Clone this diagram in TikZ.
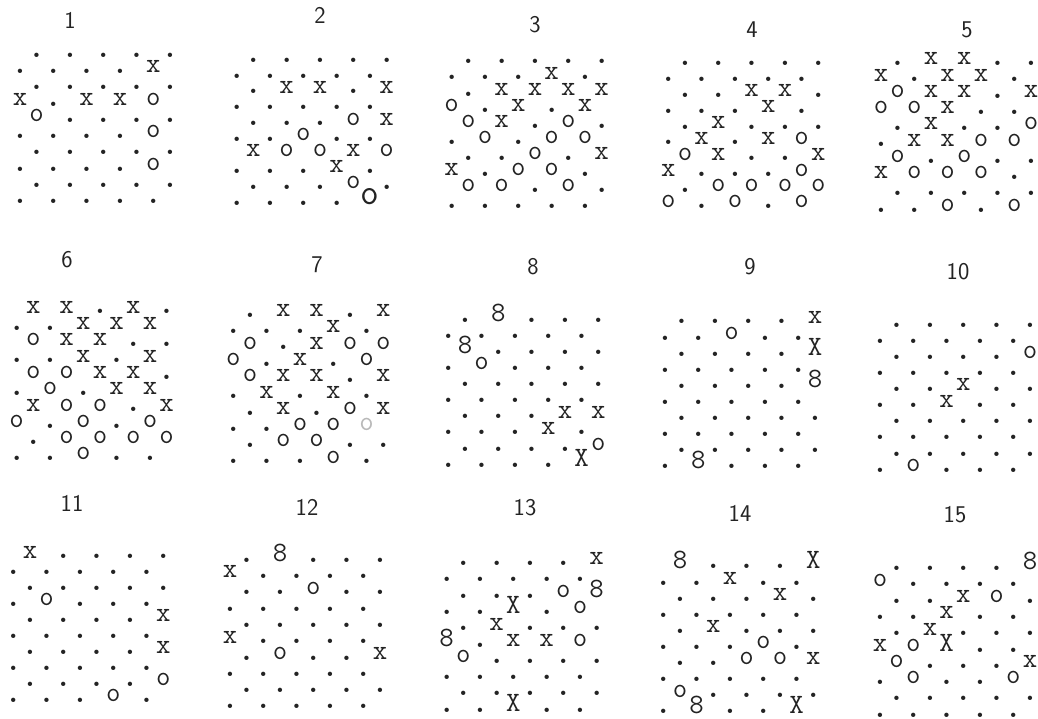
\documentclass[tikz,border=0pt]{standalone}
\usepackage{xcolor}
\usepackage{tikz}
\usetikzlibrary{positioning}
\definecolor{ink}{RGB}{35,35,35}
\definecolor{inkfaint}{RGB}{185,185,185}
\newcommand{\mkglyph}[1]{%
  \if f#1\textcolor{inkfaint}{o}\else
  \if O#1\scalebox{1.3}{o}\else#1\fi\fi}
\tikzset{
  typed/.style={inner sep=0pt,anchor=base,text=ink,yshift=-1.5pt,
               font=\fontsize{28}{28}\selectfont\ttfamily},
  typeddot/.style={inner sep=0pt,anchor=base,text=ink,yshift=-2.2pt,
               font=\fontsize{30}{30}\selectfont\rmfamily\bfseries},
  num/.style={inner sep=0pt,text=ink,
              font=\fontsize{24}{24}\selectfont\sffamily},
}
% one typed panel: id, x of first column, y of first row, row step, rows
\newcommand{\dotpanel}[5]{%
  \foreach \row [count=\r from 0] in {#5} {
    \foreach \m [count=\c from 0] in \row {
      \pgfmathsetmacro{\xx}{#2+33.33*\c+16.67*(1-mod(\r,2))}
      \pgfmathsetmacro{\yy}{#3+#4*\r}
      \if .\m
        \node[typeddot] (m#1-\r-\c) at (\xx,\yy) {.};
      \else
        \node[typed] (m#1-\r-\c) at (\xx,\yy) {\mkglyph{\m}};
      \fi
    }
  }
}
\begin{document}
\begin{tikzpicture}[x=1pt,y=-1pt]
  \useasboundingbox[fill=white] (0,0) rectangle (1038,719);
  % panel numbers
  \node[num] (n1)  at (70,20)   {1};
  \node[num] (n2)  at (320,15)  {2};
  \node[num] (n3)  at (535,25)  {3};
  \node[num] (n4)  at (752,30)  {4};
  \node[num] (n5)  at (967,30)  {5};
  \node[num] (n6)  at (67,260)  {6};
  \node[num] (n7)  at (317,265) {7};
  \node[num] (n8)  at (533,267) {8};
  \node[num] (n9)  at (750,267) {9};
  \node[num] (n10) at (958,272) {10};
  \node[num] (n11) at (72,503)  {11};
  \node[num] (n12) at (307,507) {12};
  \node[num] (n13) at (525,508) {13};
  \node[num] (n14) at (740,513) {14};
  \node[num] (n15) at (955,515) {15};
  % top band
  \dotpanel{1}{20}{55}{16.3}{{.,.,.,.,.},{.,.,.,.,x},{.,.,.,.,.},{x,.,x,x,o},{o,.,.,.,.},
    {.,.,.,.,o},{.,.,.,.,.},{.,.,.,.,o},{.,.,.,.,.},{.,.,.,.,.}}
  \dotpanel{2}{236.7}{60}{15.9}{{.,.,.,.,.},{.,.,.,.,.},{.,x,x,.,x},{.,.,.,.,.},{.,.,.,o,x},
    {.,.,o,.,.},{x,o,o,x,o},{.,.,.,x,.},{.,.,.,o,.},{.,.,.,.,O}}
  \dotpanel{3}{451.7}{61.7}{16.1}{{.,.,.,.,.},{.,.,.,x,.},{.,x,x,x,x},{o,.,x,.,x},{o,x,.,o,.},
    {.,o,.,o,o},{.,.,o,.,x},{x,.,o,o,.},{o,o,.,o,.},{.,.,.,.,.}}
  \dotpanel{4}{668.3}{63.3}{15.9}{{.,.,.,.,.},{.,.,.,.,.},{.,.,x,x,.},{.,.,.,x,.},{.,x,.,.,.},
    {.,x,.,x,o},{o,x,.,.,x},{x,.,.,.,o},{.,o,o,o,o},{o,.,o,.,o}}
  \dotpanel{5}{881}{63.3}{16.3}{{.,x,x,.,.},{x,.,x,x,.},{o,x,x,.,x},{o,o,x,.,.},{.,x,.,.,o},
    {.,x,x,o,o},{o,.,o,.,.},{x,o,o,o,.},{.,.,.,.,.},{.,.,o,.,o}}
  % middle band
  \dotpanel{6}{16.7}{311.7}{16.3}{{x,x,.,x,.},{.,.,x,x,x},{o,x,x,.,.},{.,.,x,.,x},{o,o,x,x,.},
    {.,o,.,x,x},{x,o,o,.,x},{o,.,o,.,o},{.,o,o,o,o},{.,.,o,.,.}}
  \dotpanel{7}{233.3}{315}{16.3}{{.,x,x,.,x},{.,.,.,x,.},{o,.,x,o,o},{o,.,x,.,o},{o,x,x,.,x},
    {.,x,.,x,.},{.,x,.,o,x},{.,.,o,o,f},{.,o,o,.,.},{.,.,.,o,.}}
  \dotpanel{8}{448.3}{320}{16.1}{{.,8,.,.,.},{.,.,.,.,.},{8,.,.,.,.},{.,o,.,.,.},{.,.,.,.,.},
    {.,.,.,.,.},{.,.,.,x,x},{.,.,.,x,.},{.,.,.,.,o},{.,.,.,.,X}}
  \dotpanel{9}{665}{321.7}{16.1}{{.,.,.,.,x},{.,.,o,.,.},{.,.,.,.,X},{.,.,.,.,.},{.,.,.,.,8},
    {.,.,.,.,.},{.,.,.,.,.},{.,.,.,.,.},{.,.,.,.,.},{.,8,.,.,.}}
  \dotpanel{10}{880}{325}{16.1}{{.,.,.,.,.},{.,.,.,.,.},{.,.,.,.,o},{.,.,.,.,.},{.,.,x,.,.},
    {.,.,x,.,.},{.,.,.,.,.},{.,.,.,.,.},{.,.,.,.,.},{.,o,.,.,.}}
  % bottom band
  \dotpanel{11}{13.3}{556.7}{15.9}{{x,.,.,.,.},{.,.,.,.,.},{.,.,.,.,.},{.,o,.,.,.},{.,.,.,.,x},
    {.,.,.,.,.},{.,.,.,.,x},{.,.,.,.,.},{.,.,.,.,o},{.,.,.,o,.}}
  \dotpanel{12}{230}{560}{16.3}{{.,8,.,.,.},{x,.,.,.,.},{.,.,o,.,.},{.,.,.,.,.},{.,.,.,.,.},
    {x,.,.,.,.},{.,o,.,.,x},{.,.,.,.,.},{.,.,.,.,.},{.,.,.,.,.}}
  \dotpanel{13}{446.7}{563.3}{16.3}{{.,.,.,.,x},{.,.,.,.,.},{.,.,.,o,8},{.,.,X,.,o},{.,x,.,.,.},
    {8,.,x,x,o},{o,.,.,.,.},{.,.,.,.,.},{.,.,.,.,.},{.,.,X,.,.}}
  \dotpanel{14}{663.3}{566.7}{16.1}{{8,.,.,.,X},{.,.,x,.,.},{.,.,.,x,.},{.,.,.,.,.},{.,x,.,.,.},
    {.,.,.,o,.},{.,.,o,o,x},{.,.,.,.,.},{o,.,.,.,.},{.,8,.,.,X}}
  \dotpanel{15}{880}{568.3}{16.3}{{.,.,.,.,8},{o,.,.,.,.},{.,.,x,o,.},{.,.,x,.,.},{.,x,.,.,.},
    {x,o,X,.,.},{o,.,.,.,x},{.,o,.,.,o},{.,.,.,.,.},{.,.,.,.,.}}
\end{tikzpicture}
\end{document}
